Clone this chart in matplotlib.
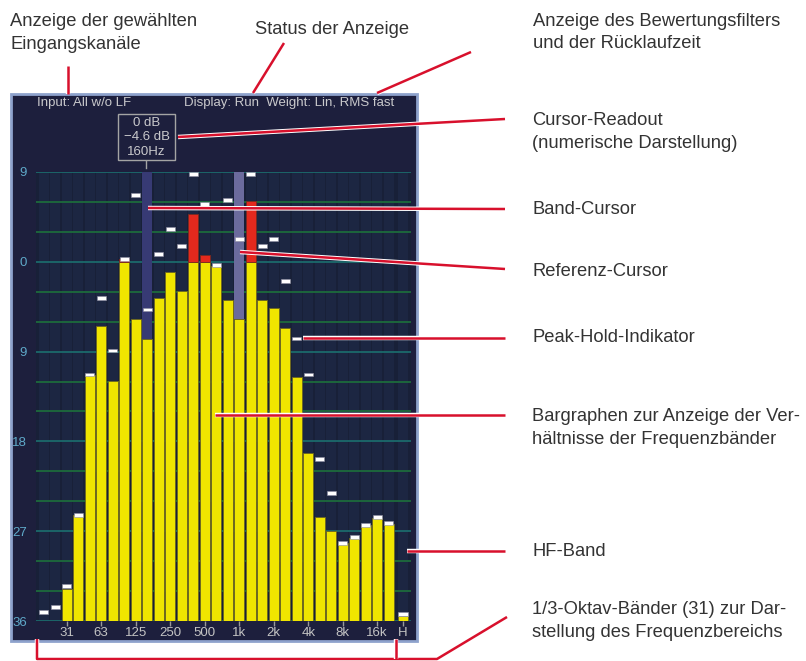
import numpy as np
import matplotlib
matplotlib.use("Agg")
import matplotlib.pyplot as plt
from matplotlib.patches import Rectangle
from matplotlib.lines import Line2D
import matplotlib.patheffects as pe

plt.rcParams['font.family'] = ['Liberation Sans', 'DejaVu Sans']

# 1/3 octave bands (31) + HF band
bands = ['20', '25', '31', '40', '50', '63', '80', '100', '125', '160', '200', '250',
         '315', '400', '500', '630', '800', '1k', '1.25k', '1.6k', '2k', '2.5k', '3.15k',
         '4k', '5k', '6.3k', '8k', '10k', '12.5k', '16k', '20k', 'H']
levels = [-36, -36, -32.8, -25.4, -11.3, -6.4, -11.9, 0.3, -5.7, -7.7, -3.6, -1.0,
          -2.9, 4.8, 0.7, -0.4, -3.8, -5.7, 6.1, -3.8, -4.6, -6.6, -11.5,
          -19.2, -25.6, -27.0, -28.2, -27.7, -26.4, -25.7, -26.3, -35.5]
peaks = [-34.9, -34.4, -32.3, -25.2, -11.1, -3.4, -8.7, 0.5, 6.9, -4.6, 1.0, 3.5,
         1.8, 9.0, 6.0, -0.1, 6.4, 2.5, 9.0, 1.8, 2.5, -1.7, -7.5,
         -11.1, -19.6, -23.0, -28.0, -27.4, -26.2, -25.4, -26.0, -35.1]
tick_bands = ['31', '63', '125', '250', '500', '1k', '2k', '4k', '8k', '16k', 'H']
ylabels = ['9', '0', '9', '18', '27', '36']
band_cursor = '160'
ref_cursor = '1k'
readout = ['0 dB', '\u22124.6 dB', '160Hz']

W, H = 806, 661
fig = plt.figure(figsize=(W / 100, H / 100), dpi=100)
fig.patch.set_facecolor('white')


def fx(x):
    return x / W


def fy(y):
    return 1 - y / H


# display panel
fig.add_artist(Rectangle((fx(11), fy(641)), fx(406), 547 / H, transform=fig.transFigure,
                         facecolor='#1d1f3d', edgecolor='#8ea2cc', lw=2, zorder=0))

ax = fig.add_axes([fx(36), fy(621), fx(375), 449 / H])
ax.set_facecolor('#182038')
for s in ax.spines.values():
    s.set_visible(False)

x = np.array([i if b != 'H' else i + 0.25 for i, b in enumerate(bands)], dtype=float)
lv = np.array(levels)
pk = np.array(peaks)

# band columns
ax.bar(x, 45, bottom=-36, width=0.9, color='#1c2642', zorder=1)

# grid every 3 dB
for g in range(-36, 10, 3):
    c = '#1b6a6c' if g % 9 == 0 else '#1d6b3c'
    ax.axhline(g, color=c, lw=1.3, zorder=2)

# cursors
bi = bands.index(band_cursor)
ri = bands.index(ref_cursor)
ax.bar(x[bi], 9 - lv[bi], bottom=lv[bi], width=0.88, color='#373a74', zorder=3)
ax.bar(x[ri], 9 - lv[ri], bottom=lv[ri], width=0.88, color='#6b6b9d', zorder=3)

# bargraphs: yellow up to 0 dB, red above
yel = np.minimum(lv, 0) + 36
ax.bar(x, yel, bottom=-36, width=0.88, color='#f0e500', edgecolor='#6b6520', lw=0.6, zorder=4)
red = np.clip(lv, 0, None)
m = red > 0
ax.bar(x[m], red[m], bottom=0, width=0.88, color='#e4291d', edgecolor='#7a2a20', lw=0.6, zorder=4)

# peak hold
ax.bar(x, 0.38, bottom=pk - 0.38, width=0.8, color='white', edgecolor='#8c8ca0', lw=0.4, zorder=5)

ax.set_xlim(-0.67, 31.94)
ax.set_ylim(-36, 9)
ax.set_yticks([9, 0, -9, -18, -27, -36])
ax.set_yticklabels(ylabels, color='#5fa9c9', fontsize=9.5)
ax.tick_params(axis='y', length=0, pad=6.5)
ax.set_xticks([x[bands.index(t)] for t in tick_bands])
ax.set_xticklabels(tick_bands, color='#c4c4c4', fontsize=9.5)
ax.tick_params(axis='x', length=3.6, width=1, color='#9a9a9a', pad=0.8)

# panel header texts
tc = '#c9c9cc'
fig.text(fx(37), fy(103), 'Input: All w/o LF', color=tc, fontsize=9.5, va='center')
fig.text(fx(184), fy(103), 'Display: Run  Weight: Lin, RMS fast', color=tc, fontsize=9.5, va='center')

# readout box
fig.add_artist(Rectangle((fx(118), fy(160)), fx(57), 46 / H, transform=fig.transFigure,
                         facecolor='#1d1f3d', edgecolor='#a4a4a4', lw=1, zorder=3))
for t, yy in zip(readout, [123, 137, 152]):
    fig.text(fx(146.5), fy(yy), t, color=tc, fontsize=9.5, ha='center', va='center', zorder=4)
fig.add_artist(Line2D([fx(146), fx(146)], [fy(161), fy(168)], transform=fig.transFigure,
                      color='#a4a4a4', lw=1))

# annotations
ac = '#333333'
afs = 13.2
fig.text(fx(10), fy(33), 'Anzeige der gewählten\nEingangskanäle', color=ac, fontsize=afs,
         va='center', linespacing=1.4)
fig.text(fx(255), fy(30), 'Status der Anzeige', color=ac, fontsize=afs, va='center')
fig.text(fx(533), fy(32.5), 'Anzeige des Bewertungsfilters\nund der Rücklaufzeit', color=ac,
         fontsize=afs, va='center', linespacing=1.4)
fig.text(fx(532), fy(132), 'Cursor-Readout\n(numerische Darstellung)', color=ac, fontsize=afs,
         va='center', linespacing=1.4)
fig.text(fx(532), fy(209), 'Band-Cursor', color=ac, fontsize=afs, va='center')
fig.text(fx(532), fy(271), 'Referenz-Cursor', color=ac, fontsize=afs, va='center')
fig.text(fx(532), fy(338), 'Peak-Hold-Indikator', color=ac, fontsize=afs, va='center')
fig.text(fx(532), fy(428), 'Bargraphen zur Anzeige der Ver-\nhältnisse der Frequenzbänder',
         color=ac, fontsize=afs, va='center', linespacing=1.4)
fig.text(fx(532), fy(551), 'HF-Band', color=ac, fontsize=afs, va='center')
fig.text(fx(532), fy(621), '1/3-Oktav-Bänder (31) zur Dar-\nstellung des Frequenzbereichs',
         color=ac, fontsize=afs, va='center', linespacing=1.4)

leaders = [
    [(68, 66), (68, 94)],
    [(284, 43), (253, 93)],
    [(471, 52), (377, 93)],
    [(178, 137), (505, 119)],
    [(148, 208), (505, 209)],
    [(240, 252), (505, 269)],
    [(303, 338), (505, 338)],
    [(215, 415), (505, 415)],
    [(407, 551), (505, 551)],
    [(37, 639), (37, 659), (437, 659), (507, 617)],
    [(396, 639), (396, 659)],
]
for pts in leaders:
    xs = [fx(p[0]) for p in pts]
    ys = [fy(p[1]) for p in pts]
    fig.add_artist(Line2D(xs, ys, transform=fig.transFigure, color='#d8102c', lw=1.8,
                          solid_capstyle='butt', zorder=10,
                          path_effects=[pe.withStroke(linewidth=3.2, foreground='white')]))

fig.savefig('out.png', dpi=100, facecolor='white')
